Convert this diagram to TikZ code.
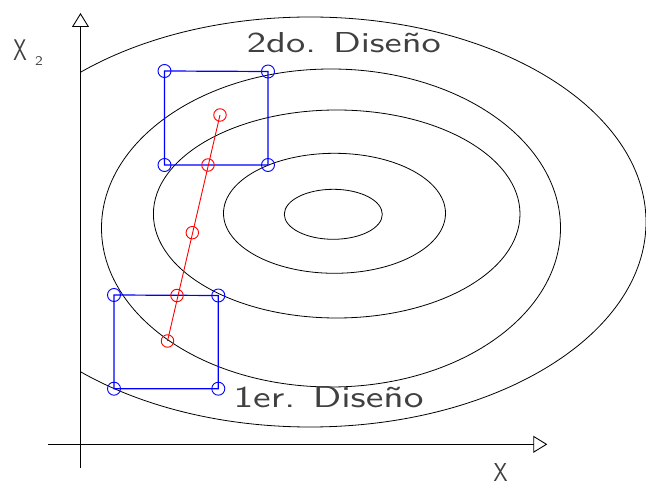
\documentclass[tikz,border=0pt]{standalone}
\usepackage{fontspec}
\usepackage{graphicx}
\usetikzlibrary{arrows.meta}
\begin{document}
\begin{tikzpicture}[x=1pt,y=-1pt,
  contour/.style={black, line width=0.8pt},
  bluebox/.style={blue, line width=1.2pt},
  redline/.style={red, line width=0.9pt},
  bpt/.style={circle, draw=blue, line width=0.9pt, minimum size=13pt, inner sep=0pt},
  rpt/.style={circle, draw=red, line width=0.9pt, minimum size=12.5pt, inner sep=0pt},
  axis/.style={black, line width=1.1pt, -{Triangle[open, length=14pt, width=17pt, line width=0.9pt]}},
  lbl/.style={inner sep=0pt, anchor=south west, text=black!75}]
\useasboundingbox (0,0) rectangle (646,486);
% contours
\draw[contour] (333.3,214.3) ellipse [x radius=49pt, y radius=25pt];
\draw[contour] (334.5,213.3) ellipse [x radius=111pt, y radius=60pt];
\draw[contour] (336.7,214) ellipse [x radius=183.3pt, y radius=104pt];
\draw[contour] (331,228) ellipse [x radius=229.5pt, y radius=159pt];
\begin{scope}
  \clip (80.5,0) rectangle (646,486);
  \draw[contour] (310,222) ellipse [x radius=336pt, y radius=205pt];
\end{scope}
% axes
\coordinate (yb) at (80.5,468);
\coordinate (yt) at (80.5,13);
\coordinate (xl) at (48,444.3);
\coordinate (xr) at (547.3,444.3);
\draw[axis] (yb) -- (yt);
\draw[axis] (xl) -- (xr);
% upper box (2do. Diseño)
\node[bpt] (u1) at (164.5,71) {};
\node[bpt] (u2) at (268,71.5) {};
\node[bpt] (u3) at (268,165) {};
\node[bpt] (u4) at (164.5,165) {};
\draw[bluebox] (u1.center) -- (u2.center) -- (u3.center) -- (u4.center) -- cycle;
% lower box (1er. Diseño)
\node[bpt] (l1) at (114,295) {};
\node[bpt] (l2) at (218.3,295.5) {};
\node[bpt] (l3) at (218.3,388.7) {};
\node[bpt] (l4) at (114,388.7) {};
\draw[bluebox] (l1.center) -- (l2.center) -- (l3.center) -- (l4.center) -- cycle;
% red path
\node[rpt] (p1) at (220,115) {};
\node[rpt] (p2) at (208,165) {};
\node[rpt] (p3) at (192.3,232.7) {};
\node[rpt] (p4) at (177,295.5) {};
\node[rpt] (p5) at (167.5,341) {};
\draw[redline] (p1.center) -- (p5.center);
% labels
\node[lbl] (t2) at (246.7,53.3) {\resizebox{194pt}{20pt}{\sffamily 2do. Diseño}};
\node[lbl] (t1) at (233.3,408.3) {\resizebox{190pt}{21pt}{\sffamily 1er. Diseño}};
\node[lbl] (tx) at (493.3,482) {\resizebox{14pt}{18pt}{\sffamily X}};
\node[lbl] (ty) at (13.3,60.7) {\resizebox{13.4pt}{20.7pt}{\sffamily X}};
\node[lbl] (ty2) at (35,65.7) {\resizebox{7.7pt}{9pt}{\sffamily 2}};
\end{tikzpicture}
\end{document}
